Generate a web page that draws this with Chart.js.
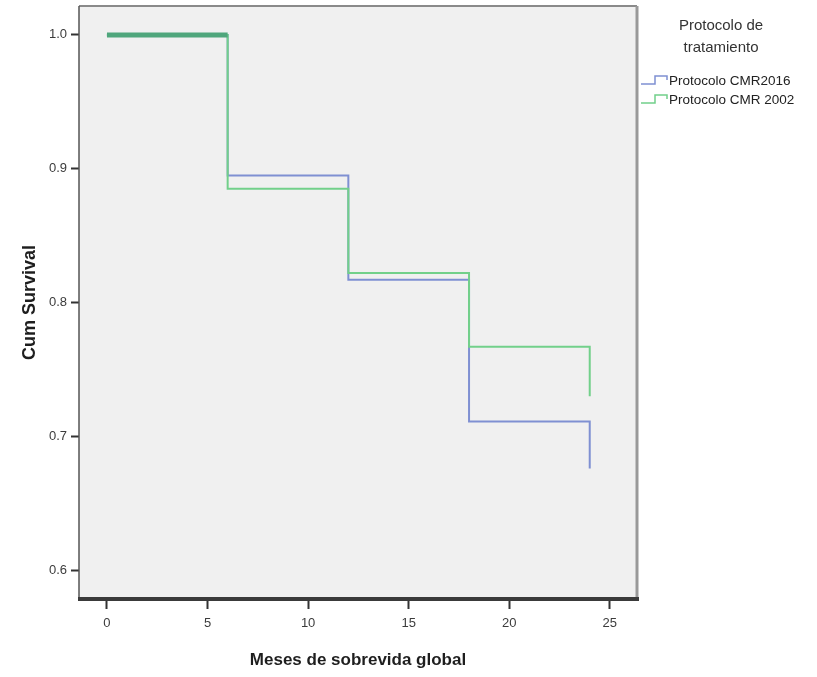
<!DOCTYPE html>
<html lang="es">
<head>
    <meta charset="UTF-8">
    <title>Cum Survival</title>
    <script src="https://cdn.jsdelivr.net/npm/chart.js"></script>
    <style>
        html, body { margin: 0; padding: 0; background: #ffffff; }
        .wrap { width: 817px; height: 677px; position: relative; }
    </style>
</head>
<body>
    <div class="wrap">
        <canvas id="kmChart"></canvas>
    </div>

    <script>
        // tiempos (meses) y supervivencia acumulada por protocolo
        const months = [0, 6, 12, 18, 24];
        const cmr2016 = [1.0, 0.895, 0.817, 0.711, 0.676];
        const cmr2002 = [1.0, 0.885, 0.822, 0.767, 0.730];
        const xTicks = [0, 5, 10, 15, 20, 25];
        const yTicks = [0.6, 0.7, 0.8, 0.9, 1.0];
        const legendTitle = ['Protocolo de', 'tratamiento'];
        const seriesNames = ['Protocolo CMR2016', 'Protocolo CMR 2002'];

        const blue = '#7f90d2';
        const green = '#72d08a';
        const points = vals => months.map((m, i) => ({ x: m, y: vals[i] }));

        // fondo gris y marco estilo SPSS
        const framePlugin = {
            id: 'frame',
            beforeDraw(chart) {
                const { ctx, chartArea: a } = chart;
                ctx.save();
                ctx.fillStyle = '#f0f0f0';
                ctx.fillRect(a.left, a.top, a.right - a.left, a.bottom - a.top);
                ctx.restore();
            },
            afterDraw(chart) {
                const { ctx, chartArea: a } = chart;
                ctx.save();
                ctx.strokeStyle = '#8a8a8a';
                ctx.lineWidth = 2;
                ctx.beginPath(); ctx.moveTo(a.left, a.top); ctx.lineTo(a.right, a.top); ctx.stroke();
                ctx.strokeStyle = '#999999';
                ctx.lineWidth = 3;
                ctx.beginPath(); ctx.moveTo(a.right, a.top); ctx.lineTo(a.right, a.bottom); ctx.stroke();
                ctx.strokeStyle = '#555555';
                ctx.lineWidth = 1.5;
                ctx.beginPath(); ctx.moveTo(a.left, a.top); ctx.lineTo(a.left, a.bottom); ctx.stroke();
                ctx.strokeStyle = '#3a3a3a';
                ctx.lineWidth = 4;
                ctx.beginPath(); ctx.moveTo(a.left - 1, a.bottom); ctx.lineTo(a.right + 2, a.bottom); ctx.stroke();
                ctx.restore();
            }
        };

        // tramo donde ambas curvas coinciden: se ve más grueso
        const overlapPlugin = {
            id: 'overlap',
            afterDatasetsDraw(chart) {
                const { ctx, scales: { x, y } } = chart;
                ctx.save();
                ctx.strokeStyle = '#4fa67c';
                ctx.lineWidth = 5;
                for (let i = 0; i < months.length - 1; i++) {
                    if (cmr2016[i] !== cmr2002[i]) continue;
                    const py = y.getPixelForValue(cmr2016[i]);
                    ctx.beginPath();
                    ctx.moveTo(x.getPixelForValue(months[i]), py);
                    ctx.lineTo(x.getPixelForValue(months[i + 1]), py);
                    ctx.stroke();
                }
                ctx.restore();
            }
        };

        // leyenda a la derecha
        const legendPlugin = {
            id: 'kmLegend',
            afterDraw(chart) {
                const { ctx } = chart;
                ctx.save();
                ctx.fillStyle = '#333333';
                ctx.textAlign = 'center';
                ctx.textBaseline = 'middle';
                ctx.font = '15px "Liberation Sans", Arial, sans-serif';
                legendTitle.forEach((t, i) => ctx.fillText(t, 721, 26 + i * 22));
                const colors = [blue, green];
                ctx.font = '13.5px "Liberation Sans", Arial, sans-serif';
                ctx.textAlign = 'left';
                seriesNames.forEach((name, i) => {
                    const cy = 80 + i * 19;
                    ctx.strokeStyle = colors[i];
                    ctx.lineWidth = 1.5;
                    ctx.beginPath();
                    ctx.moveTo(641, cy + 4);
                    ctx.lineTo(655, cy + 4);
                    ctx.lineTo(655, cy - 4);
                    ctx.lineTo(667, cy - 4);
                    ctx.lineTo(667, cy);
                    ctx.stroke();
                    ctx.fillStyle = '#222222';
                    ctx.fillText(name, 669, cy + 1);
                });
                ctx.restore();
            }
        };

        const tickFont = { family: '"Liberation Sans", Arial, sans-serif', size: 13 };
        const titleFont = { family: '"Liberation Sans", Arial, sans-serif', size: 17, weight: 'bold' };

        const ctx = document.getElementById('kmChart').getContext('2d');
        const kmChart = new Chart(ctx, {
            type: 'line',
            data: {
                datasets: [{
                    label: seriesNames[0],
                    data: points(cmr2016),
                    borderColor: blue,
                    borderWidth: 2,
                    stepped: 'before',
                    pointRadius: 0,
                    fill: false,
                    order: 2
                }, {
                    label: seriesNames[1],
                    data: points(cmr2002),
                    borderColor: green,
                    borderWidth: 2,
                    stepped: 'before',
                    pointRadius: 0,
                    fill: false,
                    order: 1
                }]
            },
            options: {
                responsive: true,
                maintainAspectRatio: false,
                animation: false,
                layout: { padding: { top: 6, right: 180, bottom: 0, left: 0 } },
                plugins: {
                    legend: { display: false },
                    tooltip: { enabled: false }
                },
                scales: {
                    x: {
                        type: 'linear',
                        min: -1.39,
                        max: 26.35,
                        afterBuildTicks: s => { s.ticks = xTicks.map(v => ({ value: v })); },
                        afterFit: s => { s.height = 78; },
                        border: { display: false },
                        grid: { drawOnChartArea: false, drawTicks: true, tickLength: 10, tickColor: '#333333', tickWidth: 2 },
                        ticks: { font: tickFont, color: '#3c3c3c', padding: 7, maxRotation: 0 },
                        title: {
                            display: true,
                            text: 'Meses de sobrevida global',
                            font: titleFont,
                            color: '#1e1e1e',
                            padding: { top: 0, bottom: 6 }
                        }
                    },
                    y: {
                        min: 0.5784,
                        max: 1.0216,
                        afterBuildTicks: s => { s.ticks = yTicks.map(v => ({ value: v })); },
                        afterFit: s => { s.width = 79; s.paddingTop = 0; s.paddingBottom = 0; },
                        border: { display: false },
                        grid: { drawOnChartArea: false, drawTicks: true, tickLength: 8, tickColor: '#333333', tickWidth: 2 },
                        ticks: {
                            font: tickFont,
                            color: '#3c3c3c',
                            padding: 4,
                            callback: v => v.toFixed(1)
                        },
                        title: {
                            display: true,
                            text: 'Cum Survival',
                            font: { family: '"Liberation Sans", Arial, sans-serif', size: 18, weight: 'bold' },
                            color: '#1e1e1e',
                            padding: { top: 19, bottom: 0 }
                        }
                    }
                }
            },
            plugins: [framePlugin, overlapPlugin, legendPlugin]
        });
    </script>
</body>
</html>
